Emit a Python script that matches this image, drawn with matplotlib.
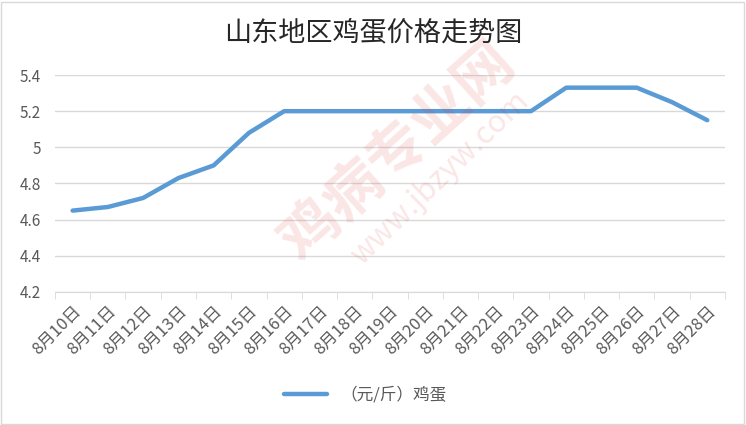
import matplotlib.pyplot as plt
from matplotlib.patches import Rectangle

plt.rcParams['font.family'] = ['Noto Sans CJK SC', 'DejaVu Sans']

dates = ["8月10日", "8月11日", "8月12日", "8月13日", "8月14日", "8月15日", "8月16日",
         "8月17日", "8月18日", "8月19日", "8月20日", "8月21日", "8月22日", "8月23日",
         "8月24日", "8月25日", "8月26日", "8月27日", "8月28日"]
prices = [4.65, 4.67, 4.72, 4.83, 4.90, 5.08, 5.20,
          5.20, 5.20, 5.20, 5.20, 5.20, 5.20, 5.20,
          5.33, 5.33, 5.33, 5.25, 5.15]
yticks = [4.2, 4.4, 4.6, 4.8, 5.0, 5.2, 5.4]
ylabels = ["4.2", "4.4", "4.6", "4.8", "5", "5.2", "5.4"]

fig = plt.figure(figsize=(7.46, 4.25), dpi=100)
ax = fig.add_axes([0.0737, 0.313, 0.898, 0.5105])

# 水印 (淡红色)
fig.text(0.534, 0.64, "鸡病专业网", fontsize=42, color="#e03030", alpha=0.12,
         rotation=42, ha="center", va="center", fontweight="bold")
fig.text(0.59, 0.58, "www.jbzyw.com", fontsize=22, color="#e03030", alpha=0.12,
         rotation=44, ha="center", va="center")

x = list(range(len(dates)))
ax.plot(x, prices, color="#5b9bd5", lw=3.2, solid_capstyle="round", label="（元/斤）鸡蛋", zorder=3)

ax.set_xlim(-0.5, len(dates) - 0.5)
ax.set_ylim(4.2, 5.4)
ax.set_yticks(yticks)
ax.set_yticklabels(ylabels, fontsize=11, color="#595959")
ax.grid(axis="y", color="#d9d9d9", lw=1)
ax.set_axisbelow(True)

ax.set_xticks(x)
ax.set_xticklabels(dates, rotation=45, ha="right", rotation_mode="anchor",
                   fontsize=12, color="#595959")
ax.set_xticks([i - 0.5 for i in range(len(dates) + 1)], minor=True)
ax.tick_params(axis="x", which="major", length=0, pad=8)
ax.tick_params(axis="x", which="minor", length=5, color="#d9d9d9")
ax.tick_params(axis="y", length=0, pad=10)

for s in ["top", "right", "left"]:
    ax.spines[s].set_visible(False)
ax.spines["bottom"].set_color("#d9d9d9")

fig.text(0.5, 0.922, "山东地区鸡蛋价格走势图", fontsize=19.5, color="#262626",
         ha="center", va="center")

leg = fig.legend(loc="center", bbox_to_anchor=(0.49, 0.07), frameon=False,
                 fontsize=12, handlelength=2.6)
for t in leg.get_texts():
    t.set_color("#595959")

fig.patches.append(Rectangle((0.002, 0.003), 0.995, 0.993, transform=fig.transFigure,
                             fill=False, edgecolor="#d9d9d9", lw=1))

fig.savefig("out.png", dpi=100)
